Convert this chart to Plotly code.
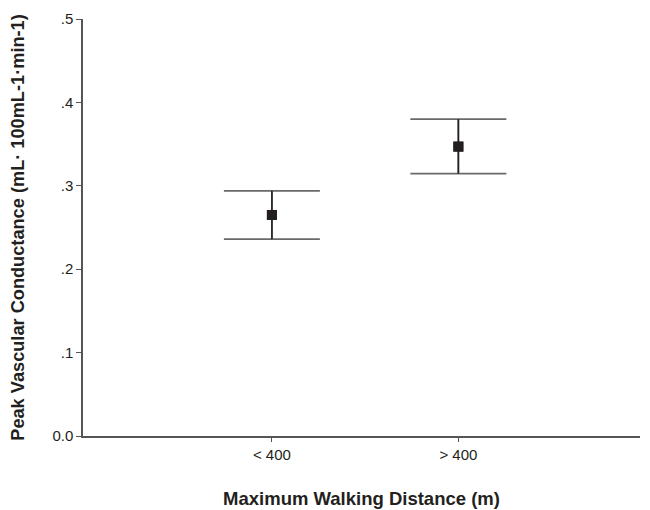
import plotly.graph_objects as go

categories = ["< 400", "> 400"]
cat_pos = [1, 2]
means = [0.265, 0.347]
upper = [0.294, 0.380]
lower = [0.236, 0.3145]
ytick_vals = [0.0, 0.1, 0.2, 0.3, 0.4, 0.5]
ytick_text = ["0.0", ".1", ".2", ".3", ".4", ".5"]

err_plus = [u - m for u, m in zip(upper, means)]
err_minus = [m - l for m, l in zip(means, lower)]

fig = go.Figure()
# caps (grey)
fig.add_trace(go.Scatter(
    x=cat_pos, y=means, mode="markers",
    marker=dict(symbol="square", size=10, color="#231f20"),
    error_y=dict(type="data", symmetric=False, array=err_plus, arrayminus=err_minus,
                 color="#6a6a6a", thickness=1.8, width=48),
    showlegend=False, hoverinfo="skip",
))
# stems (black) and markers
fig.add_trace(go.Scatter(
    x=cat_pos, y=means, mode="markers",
    marker=dict(symbol="square", size=10, color="#231f20"),
    error_y=dict(type="data", symmetric=False, array=err_plus, arrayminus=err_minus,
                 color="#231f20", thickness=1.5, width=0),
    showlegend=False,
))

font_family = "Liberation Sans, Arial, sans-serif"
fig.update_layout(
    width=642, height=502,
    margin=dict(l=75, r=10, t=11, b=74),
    paper_bgcolor="white", plot_bgcolor="white",
    font=dict(family=font_family, color="#231f20", size=15),
    xaxis=dict(
        range=[-0.013, 2.974], tickvals=cat_pos, ticktext=categories,
        showgrid=False, zeroline=False, showline=True, linecolor="#555", linewidth=1.5,
        ticks="outside", ticklen=4, tickcolor="#555", automargin=False,
        tickfont=dict(size=15),
        title=dict(text="<b>Maximum Walking Distance (m)</b>", font=dict(size=18.5), standoff=30),
    ),
    yaxis=dict(
        range=[0, 0.5], tickvals=ytick_vals, ticktext=ytick_text,
        showgrid=False, zeroline=False, showline=True, linecolor="#555", linewidth=1.5,
        ticks="outside", ticklen=5, tickcolor="#555", automargin=False,
        tickfont=dict(size=15),
        title=dict(text="<b>Peak Vascular Conductance (mL· 100mL-1·min-1)</b>", font=dict(size=18.2), standoff=32),
    ),
)

fig.write_html("out.html")
